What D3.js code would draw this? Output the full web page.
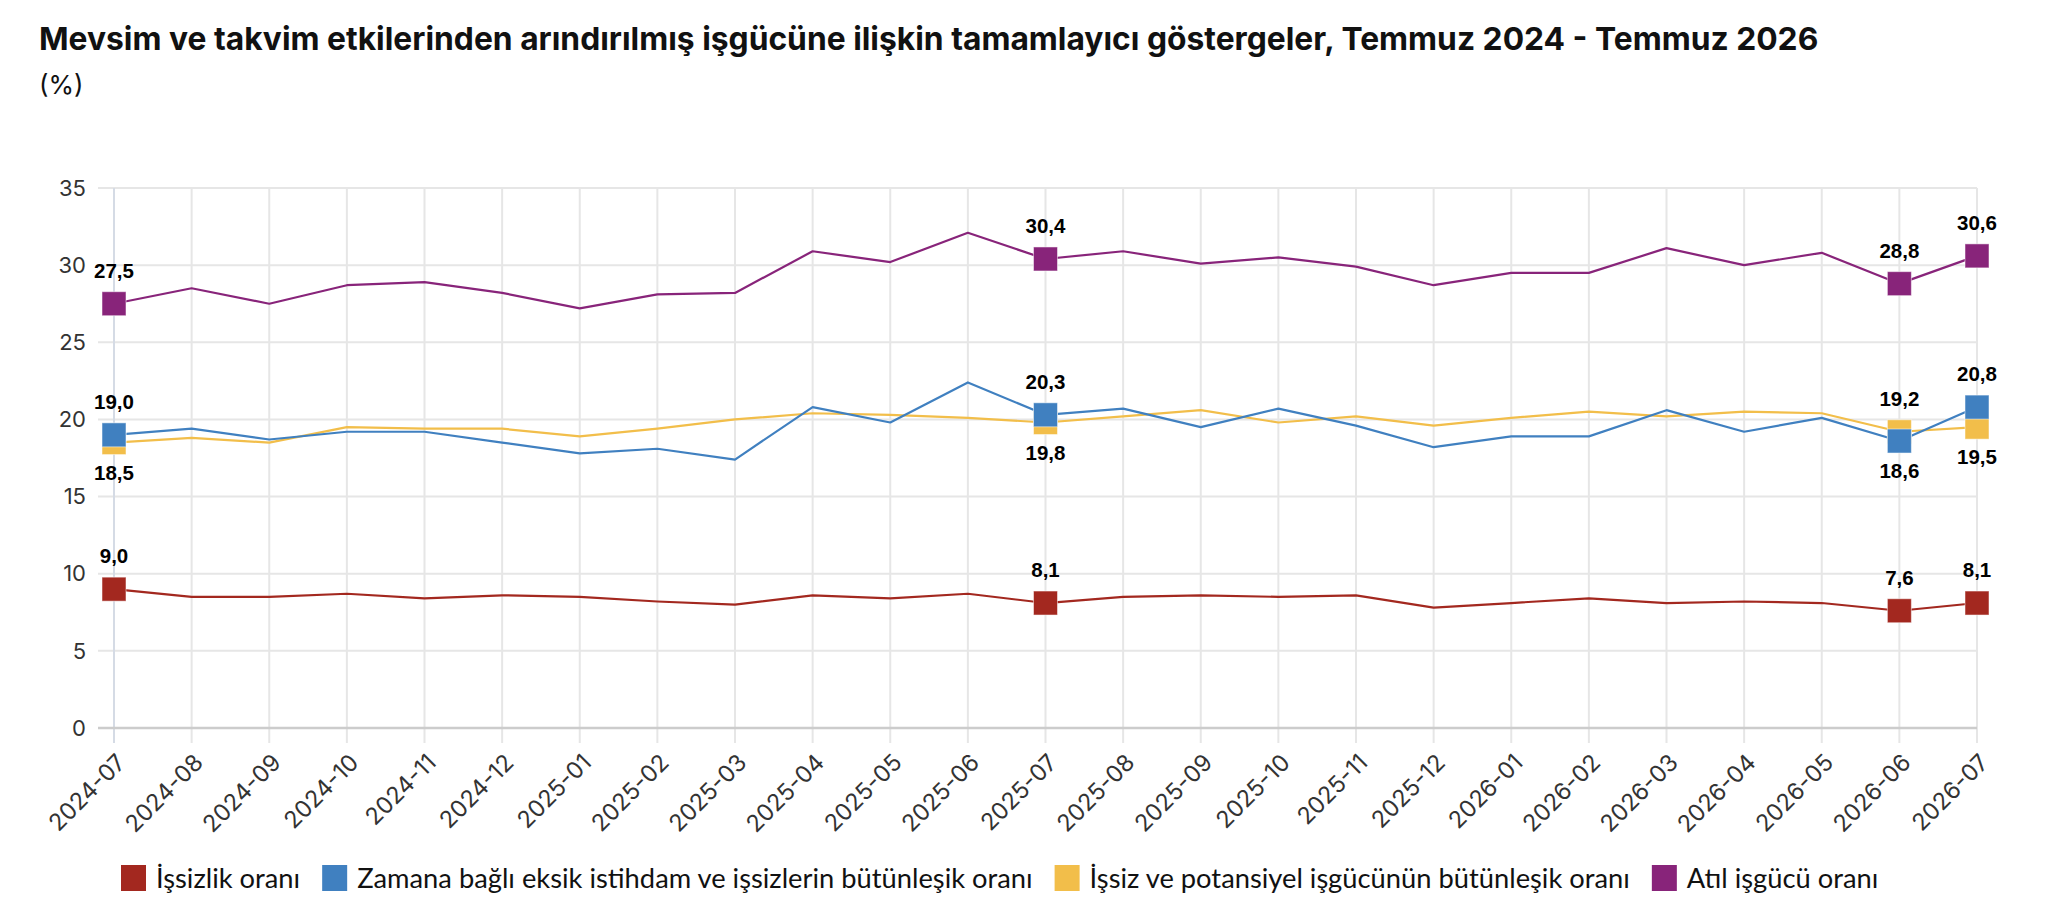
<!DOCTYPE html>
<html lang="tr">
<head>
<meta charset="utf-8">
<script src="https://cdn.jsdelivr.net/npm/d3@7"></script>
<style>
    html, body { margin: 0; padding: 0; background: #fff; }
    svg { display: block; }
    .grid line { stroke: #e6e6e6; stroke-width: 2; }
    .tick-label { font-family: Inter, Roboto, sans-serif; fill: #333; }
    .series-line { fill: none; stroke-width: 2.2; stroke-linejoin: round; }
    .data-label { font-family: "Liberation Sans", Arial, sans-serif; font-weight: bold; fill: #000; }
</style>
</head>
<body>
<div id="chart"></div>
<script>
const WIDTH = 2052;
const HEIGHT = 904;

const months = [
    '2024-07', '2024-08', '2024-09', '2024-10', '2024-11', '2024-12',
    '2025-01', '2025-02', '2025-03', '2025-04', '2025-05', '2025-06',
    '2025-07', '2025-08', '2025-09', '2025-10', '2025-11', '2025-12',
    '2026-01', '2026-02', '2026-03', '2026-04', '2026-05', '2026-06', '2026-07',
];

const unemploymentRate = [
    9.0, 8.5, 8.5, 8.7, 8.4, 8.6, 8.5, 8.2, 8.0, 8.6, 8.4, 8.7,
    8.1, 8.5, 8.6, 8.5, 8.6, 7.8, 8.1, 8.4, 8.1, 8.2, 8.1, 7.6, 8.1,
];
const timeRelatedRate = [
    19.0, 19.4, 18.7, 19.2, 19.2, 18.5, 17.8, 18.1, 17.4, 20.8, 19.8, 22.4,
    20.3, 20.7, 19.5, 20.7, 19.6, 18.2, 18.9, 18.9, 20.6, 19.2, 20.1, 18.6, 20.8,
];
const potentialRate = [
    18.5, 18.8, 18.5, 19.5, 19.4, 19.4, 18.9, 19.4, 20.0, 20.4, 20.3, 20.1,
    19.8, 20.2, 20.6, 19.8, 20.2, 19.6, 20.1, 20.5, 20.2, 20.5, 20.4, 19.2, 19.5,
];
const underutilizationRate = [
    27.5, 28.5, 27.5, 28.7, 28.9, 28.2, 27.2, 28.1, 28.2, 30.9, 30.2, 32.1,
    30.4, 30.9, 30.1, 30.5, 29.9, 28.7, 29.5, 29.5, 31.1, 30.0, 30.8, 28.8, 30.6,
];

const seriesNames = [
    'İşsizlik oranı',
    'Zamana bağlı eksik istihdam ve işsizlerin bütünleşik oranı',
    'İşsiz ve potansiyel işgücünün bütünleşik oranı',
    'Atıl işgücü oranı',
];
const seriesColors = ['#a3281f', '#4080c0', '#f2be4a', '#88247a'];
const seriesValues = [unemploymentRate, timeRelatedRate, potentialRate, underutilizationRate];

const labeledMonths = ['2024-07', '2025-07', '2026-06', '2026-07'];
const yTicks = [0, 5, 10, 15, 20, 25, 30, 35];

const titleText = 'Mevsim ve takvim etkilerinden arındırılmış işgücüne ilişkin tamamlayıcı göstergeler, Temmuz 2024 - Temmuz 2026';
const subtitleText = '(%)';

const fmt = d3.formatLocale({ decimal: ',', thousands: '.', grouping: [3], currency: ['', ''] }).format('.1f');

const series = seriesNames.map((name, i) => ({
    name,
    color: seriesColors[i],
    points: months.map((m, j) => ({ month: m, value: seriesValues[i][j] })),
}));

const svg = d3.select('#chart')
    .append('svg')
    .attr('width', WIDTH)
    .attr('height', HEIGHT);

// title, fitted to the reference width
const title = svg.append('text')
    .attr('x', 39)
    .attr('y', 50)
    .attr('font-family', 'Inter, Roboto, sans-serif')
    .attr('font-weight', 700)
    .attr('font-size', 28)
    .attr('fill', '#111')
    .text(titleText);
const titleLen = title.node().getComputedTextLength();
title.attr('font-size', 28 * 1780 / titleLen);

svg.append('text')
    .attr('x', 39)
    .attr('y', 94)
    .attr('font-family', 'Inter, Roboto, sans-serif')
    .attr('font-size', 26)
    .attr('fill', '#111')
    .text(subtitleText);

const plotLeft = 98;
const x = d3.scalePoint().domain(months).range([114, 1977]);
const y = d3.scaleLinear().domain([0, 35]).range([728, 188]);

// horizontal grid
svg.append('g')
    .attr('class', 'grid')
    .selectAll('line')
    .data(yTicks.filter(t => t !== 0))
    .enter()
    .append('line')
    .attr('x1', plotLeft)
    .attr('x2', x.range()[1])
    .attr('y1', d => y(d))
    .attr('y2', d => y(d));

// vertical grid + ticks
svg.append('g')
    .attr('class', 'grid')
    .selectAll('line')
    .data(months)
    .enter()
    .append('line')
    .attr('x1', d => x(d))
    .attr('x2', d => x(d))
    .attr('y1', y(35))
    .attr('y2', y(0) + 15)
    .style('stroke', (d, i) => (i === 0 ? '#d5dbe5' : null));

// baseline
svg.append('line')
    .attr('x1', plotLeft)
    .attr('x2', x.range()[1])
    .attr('y1', y(0))
    .attr('y2', y(0))
    .attr('stroke', '#cccccc')
    .attr('stroke-width', 2.5);

// y labels
svg.append('g')
    .selectAll('text')
    .data(yTicks)
    .enter()
    .append('text')
    .attr('class', 'tick-label')
    .attr('x', 86)
    .attr('y', d => y(d))
    .attr('dy', '0.35em')
    .attr('text-anchor', 'end')
    .attr('font-size', 22)
    .text(d => d);

// x labels
svg.append('g')
    .selectAll('text')
    .data(months)
    .enter()
    .append('text')
    .attr('class', 'tick-label')
    .attr('text-anchor', 'end')
    .attr('font-size', 23.5)
    .attr('transform', d => `translate(${x(d) + 13},${y(0) + 36}) rotate(-45)`)
    .text(d => d);

const line = d3.line()
    .x(d => x(d.month))
    .y(d => y(d.value));

const drawOrder = series.slice().reverse();

svg.append('g')
    .selectAll('path')
    .data(drawOrder)
    .enter()
    .append('path')
    .attr('class', 'series-line')
    .attr('stroke', d => d.color)
    .attr('d', d => line(d.points));

const MARK = 24;
svg.append('g')
    .selectAll('g')
    .data(drawOrder)
    .enter()
    .append('g')
    .attr('fill', d => d.color)
    .selectAll('rect')
    .data(d => d.points.filter(p => labeledMonths.includes(p.month)))
    .enter()
    .append('rect')
    .attr('x', d => x(d.month) - MARK / 2)
    .attr('y', d => y(d.value) - MARK / 2)
    .attr('width', MARK)
    .attr('height', MARK)
    .attr('stroke', '#fff')
    .attr('stroke-opacity', 0.5)
    .attr('stroke-width', 1);

// a label goes below when another series sits just above it
function labelBelow(si, month, value) {
    return series.some((s, k) => {
        if (k === si) return false;
        const v = s.points.find(p => p.month === month).value;
        return v > value && v - value < 3;
    });
}

const labels = [];
series.forEach((s, si) => {
    s.points
        .filter(p => labeledMonths.includes(p.month))
        .forEach(p => labels.push({ ...p, below: labelBelow(si, p.month, p.value) }));
});

svg.append('g')
    .selectAll('text')
    .data(labels)
    .enter()
    .append('text')
    .attr('class', 'data-label')
    .attr('font-size', 20.5)
    .attr('text-anchor', 'middle')
    .attr('x', d => x(d.month))
    .attr('y', d => y(d.value) + (d.below ? 37 : -26))
    .text(d => fmt(d.value));

// legend
const legend = svg.append('g').attr('transform', 'translate(121,878)');
const legendFont = 'Lato, "Noto Sans", sans-serif';
let legendSize = 22;
const probe = legend.append('text')
    .attr('font-family', legendFont)
    .attr('font-size', legendSize)
    .text(seriesNames.join(''));
legendSize = legendSize * 1552 / probe.node().getComputedTextLength();
probe.remove();

let cursor = 0;
series.forEach(s => {
    legend.append('rect')
        .attr('x', cursor)
        .attr('y', -13)
        .attr('width', 25)
        .attr('height', 26)
        .attr('fill', s.color);
    const t = legend.append('text')
        .attr('x', cursor + 35)
        .attr('y', 0)
        .attr('dy', '0.35em')
        .attr('font-family', legendFont)
        .attr('font-size', legendSize)
        .attr('fill', '#111')
        .text(s.name);
    cursor += 35 + t.node().getComputedTextLength() + 22;
});
</script>
</body>
</html>
